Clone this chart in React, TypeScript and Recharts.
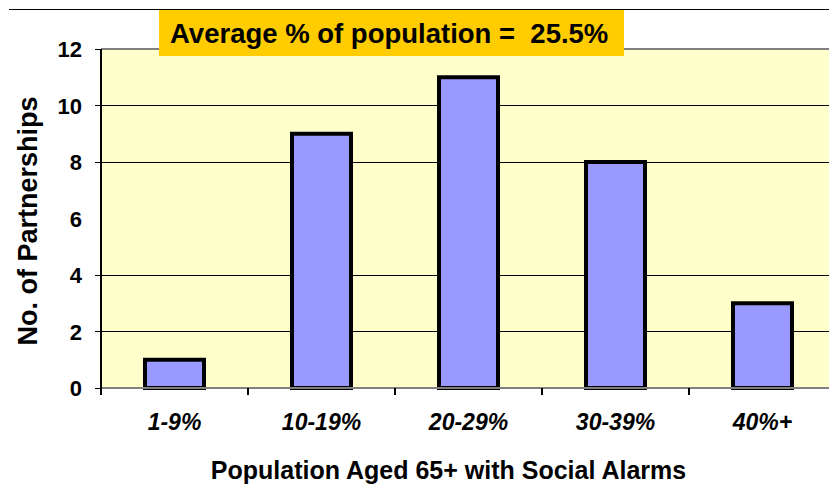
import React from 'react';
import { BarChart, Bar, XAxis, YAxis, CartesianGrid, ReferenceLine } from 'recharts';

const categories = ['1-9%', '10-19%', '20-29%', '30-39%', '40%+'];
const partnerships = [1, 9, 11, 8, 3];
const yTicks = [0, 2, 4, 6, 8, 10, 12];
const gridValues = [2, 4, 8, 10];
const ticksWithoutMark = [6];
const titleText = 'Average % of population =  25.5%';
const xTitle = 'Population Aged 65+ with Social Alarms';
const yTitle = 'No. of Partnerships';

const data = categories.map((c, i) => ({ category: c, value: partnerships[i] }));

const FONT = '"Liberation Sans", Arial, sans-serif';

const YTick = (props: any) => {
  const { x, y, payload } = props;
  const v = payload.value;
  return (
    <g>
      {ticksWithoutMark.includes(v) ? null : (
        <line x1={x - 6} x2={x} y1={y} y2={y} stroke="#000" strokeWidth={1} shapeRendering="crispEdges" />
      )}
      <text x={x - 19} y={y + 8} textAnchor="end" fontFamily={FONT} fontWeight="bold" fontSize={22} fill="#000">
        {v}
      </text>
    </g>
  );
};

const XTick = (props: any) => {
  const { x, y, payload, index, visibleTicksCount, width } = props;
  const half = payload && payload.offset ? payload.offset : (width && visibleTicksCount ? width / visibleTicksCount / 2 : 73.5);
  const isLast = index === (visibleTicksCount ?? categories.length) - 1;
  return (
    <g>
      <line x1={x - half} x2={x - half} y1={y} y2={y + 7} stroke="#000" strokeWidth={2} />
      {isLast ? <line x1={x + half} x2={x + half} y1={y} y2={y + 7} stroke="#000" strokeWidth={2} /> : null}
      <text x={x} y={y + 42} textAnchor="middle" fontFamily={FONT} fontWeight="bold" fontStyle="italic" fontSize={23} fill="#000">
        {payload.value}
      </text>
    </g>
  );
};

export default function App() {
  return (
    <div style={{ position: 'absolute', left: 0, top: 0, width: 829, height: 486, overflow: 'hidden', background: '#fff' }}>
      <BarChart
        width={840}
        height={486}
        data={data}
        margin={{ top: 49, right: 4, bottom: 68, left: 0 }}
        barSize={59}
      >
        <CartesianGrid
          fill="#FFFFCC"
          vertical={false}
          horizontalValues={gridValues}
          stroke="#000"
          strokeWidth={1}
          strokeDasharray=""
          shapeRendering="crispEdges"
        />
        <XAxis
          dataKey="category"
          height={30}
          tickLine={false}
          tickSize={0}
          tickMargin={0}
          tick={<XTick />}
          axisLine={{ stroke: '#808080', strokeWidth: 2 }}
          interval={0}
        />
        <YAxis
          width={101}
          domain={[0, 12]}
          ticks={yTicks}
          interval={0}
          tickLine={false}
          tickSize={0}
          tickMargin={0}
          tick={<YTick />}
          axisLine={{ stroke: '#000', strokeWidth: 2 }}
        />
        <ReferenceLine y={12} stroke="#808080" strokeWidth={2} />
        <Bar dataKey="value" fill="#9999FF" stroke="#000" strokeWidth={4} isAnimationActive={false} />
      </BarChart>
      <svg
        width={829}
        height={486}
        style={{ position: 'absolute', left: 0, top: 0, pointerEvents: 'none' }}
      >
        <line x1={9} x2={829} y1={9.5} y2={9.5} stroke="#000" strokeWidth={1} />
        <rect x={159} y={10} width={465} height={46} fill="#FFCC00" />
        <text x={170} y={43} fontFamily={FONT} fontWeight="bold" fontSize={27.5} fill="#000" style={{ whiteSpace: 'pre' }}>
          {titleText}
        </text>
        <text x={448.5} y={479} textAnchor="middle" fontFamily={FONT} fontWeight="bold" fontSize={25} fill="#000">
          {xTitle}
        </text>
        <text
          transform="rotate(-90)"
          x={-221}
          y={36.5}
          textAnchor="middle"
          fontFamily={FONT}
          fontWeight="bold"
          fontSize={27}
          fill="#000"
        >
          {yTitle}
        </text>
      </svg>
    </div>
  );
}
